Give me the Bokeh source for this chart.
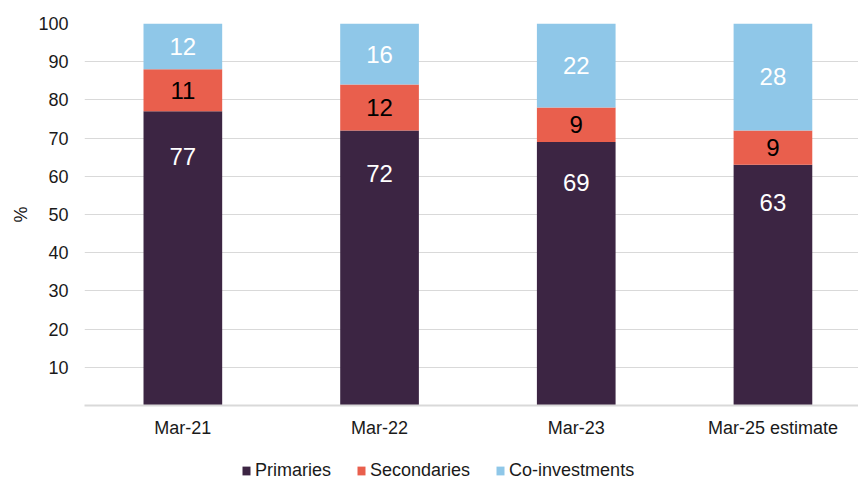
from bokeh.plotting import figure
from bokeh.layouts import column
from bokeh.models import Range1d, FixedTicker, Legend, LegendItem
from bokeh.core.properties import value
from bokeh.embed import file_html
from bokeh.resources import INLINE

categories = ["Mar-21", "Mar-22", "Mar-23", "Mar-25 estimate"]
primaries = [77, 72, 69, 63]
secondaries = [11, 12, 9, 9]
co_investments = [12, 16, 22, 28]
y_ticks = [10, 20, 30, 40, 50, 60, 70, 80, 90, 100]
series_names = ["Primaries", "Secondaries", "Co-investments"]

FONT = "Liberation Sans"
C_PRI = "#3C2543"
C_SEC = "#E95F4D"
C_CO = "#8FC7E8"
TXT = "#1a1a1a"

x = list(range(len(categories)))
sec_bottom = primaries
sec_top = [a + b for a, b in zip(primaries, secondaries)]
co_top = [a + b for a, b in zip(sec_top, co_investments)]

p = figure(width=858, height=451, output_backend="svg", toolbar_location=None,
           x_range=Range1d(-0.5, 3.435), y_range=Range1d(0, 100),
           min_border_left=84, min_border_right=0, min_border_top=23, min_border_bottom=46)
p.outline_line_color = None
p.background_fill_color = "white"
p.border_fill_color = "white"

bw = 0.40
p.vbar(x=x, bottom=0, top=primaries, width=bw, fill_color=C_PRI, line_color=None)
p.vbar(x=x, bottom=sec_bottom, top=sec_top, width=bw, fill_color=C_SEC, line_color=None)
p.vbar(x=x, bottom=sec_top, top=co_top, width=bw, fill_color=C_CO, line_color=None)

# labels
pri_y = [v * 0.845 for v in primaries]
sec_y = [(a + b) / 2 for a, b in zip(sec_bottom, sec_top)]
co_y = [(a + b) / 2 for a, b in zip(sec_top, co_top)]
common = dict(text_align="center", text_baseline="middle", text_font=value(FONT),
              text_font_size="24px")
p.text(x=x, y=pri_y, text=[str(v) for v in primaries], text_color="white", **common)
p.text(x=x, y=sec_y, text=[str(v) for v in secondaries], text_color="black", **common)
p.text(x=x, y=co_y, text=[str(v) for v in co_investments], text_color="white", **common)

# axes
p.xgrid.visible = False
p.ygrid.grid_line_color = "#D9D9D9"
p.ygrid.grid_line_width = 1
p.ygrid.ticker = FixedTicker(ticks=y_ticks)

p.yaxis.ticker = FixedTicker(ticks=y_ticks)
p.yaxis.axis_line_color = None
p.yaxis.major_tick_line_color = None
p.yaxis.major_tick_out = 0
p.yaxis.major_tick_in = 0
p.yaxis.minor_tick_line_color = None
p.yaxis.minor_tick_out = 0
p.yaxis.major_label_standoff = 16
p.yaxis.major_label_text_font = FONT
p.yaxis.major_label_text_font_size = "18px"
p.yaxis.major_label_text_color = TXT
p.yaxis.axis_label = "%"
p.yaxis.axis_label_text_font = FONT
p.yaxis.axis_label_text_font_size = "18px"
p.yaxis.axis_label_text_font_style = "normal"
p.yaxis.axis_label_text_color = TXT
p.yaxis.axis_label_standoff = 4

p.xaxis.ticker = FixedTicker(ticks=x)
p.xaxis.major_label_overrides = {i: c for i, c in enumerate(categories)}
p.xaxis.axis_line_color = "#D9D9D9"
p.xaxis.axis_line_width = 2
p.xaxis.major_tick_line_color = None
p.xaxis.major_tick_out = 0
p.xaxis.major_tick_in = 0
p.xaxis.minor_tick_line_color = None
p.xaxis.minor_tick_out = 0
p.xaxis.major_label_standoff = 12
p.xaxis.major_label_text_font = FONT
p.xaxis.major_label_text_font_size = "18px"
p.xaxis.major_label_text_color = TXT

# legend strip (frame aligned with main plot frame, starting at x=84)
pl = figure(width=858, height=30, output_backend="svg", toolbar_location=None,
            x_range=Range1d(0, 1), y_range=Range1d(0, 1),
            x_axis_type=None, y_axis_type=None, min_border=0,
            min_border_left=0, min_border_right=0, min_border_top=0, min_border_bottom=0)
pl.outline_line_color = None
pl.xgrid.visible = False
pl.ygrid.visible = False
lr = []
for c in [C_PRI, C_SEC, C_CO]:
    # zero-size placeholder glyph, only used to draw the legend swatch
    lr.append(pl.vbar(x=[0], bottom=[0], top=[0], width=0, fill_color=c, line_color=None))
legend = Legend(items=[LegendItem(label=n, renderers=[r]) for n, r in zip(series_names, lr)],
                orientation="horizontal", location=(157, 0),
                glyph_width=10, glyph_height=11, label_standoff=4, spacing=25,
                padding=0, margin=0, border_line_color=None, background_fill_alpha=0,
                label_text_font=FONT, label_text_font_size="18px",
                label_text_color=TXT, label_height=20)
pl.add_layout(legend, "center")

layout = column(p, pl, spacing=0)
open("out.html", "w").write(file_html(layout, INLINE))
